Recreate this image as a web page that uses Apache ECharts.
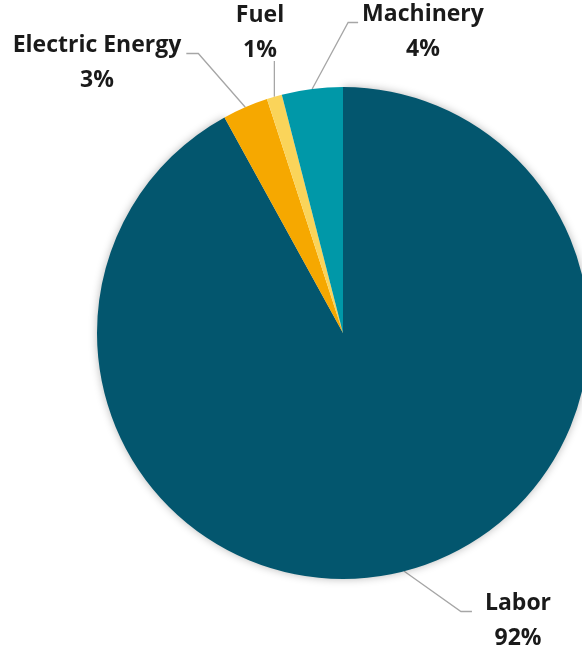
<!DOCTYPE html>
<html>
<head>
<meta charset="utf-8">
<script src="https://cdn.jsdelivr.net/npm/echarts@6/dist/echarts.min.js"></script>
<style>
  html, body { margin: 0; padding: 0; background: #ffffff; }
  #chart { width: 582px; height: 650px; }
</style>
</head>
<body>
<div id="chart"></div>
<script>
// Cost shares (percent)
const categories = ['Labor', 'Electric Energy', 'Fuel', 'Machinery'];
const shares = [92, 3, 1, 4];
const sliceColors = ['#03566E', '#F6A800', '#FAD45A', '#0098A8'];

// Where each two-line label sits, and which side its leader line leaves from
const labelSpots = {
  'Labor':           { x: 518, y: 621, side: 'left',   gap: 13, len: 11 },
  'Electric Energy': { x: 97,  y: 63,  side: 'right',  gap: 5,  len: 12 },
  'Fuel':            { x: 260, y: 33,  side: 'bottom', gap: 0,  len: 0 },
  'Machinery':       { x: 423, y: 32,  side: 'left',   gap: 4,  len: 10 }
};

const chart = echarts.init(document.getElementById('chart'), null, { renderer: 'canvas' });

const textStyle = {
  fontFamily: '"Open Sans", "Liberation Sans", sans-serif',
  fontWeight: 'bold',
  fontSize: 23,
  lineHeight: 35,
  color: '#1A1A1A',
  align: 'center'
};

chart.setOption({
  animation: false,
  backgroundColor: '#ffffff',
  series: [{
    type: 'pie',
    center: [343, 333],
    radius: [0, 246],
    startAngle: 90,
    clockwise: true,
    avoidLabelOverlap: false,
    percentPrecision: 0,
    data: categories.map((name, i) => ({
      name: name,
      value: shares[i],
      // the big slice carries the soft drop shadow around the disc
      itemStyle: i === 0
        ? { color: sliceColors[i], shadowBlur: 8, shadowColor: 'rgba(0, 0, 0, 0.28)' }
        : { color: sliceColors[i] }
    })),
    itemStyle: { borderWidth: 0 },
    label: {
      show: true,
      position: 'outside',
      formatter: '{n|{b}}\n{p|{d}%}',
      rich: { n: textStyle, p: textStyle }
    },
    labelLine: {
      show: true,
      lineStyle: { color: '#A6A6A6', width: 1.3 }
    },
    emphasis: { disabled: true },
    labelLayout: function (params) {
      const spot = labelSpots[params.name] || labelSpots[categories[params.dataIndex]];
      const w = params.labelRect.width;
      const h = params.labelRect.height;
      const anchor = params.labelLinePoints ? params.labelLinePoints[0] : null;
      const out = { x: spot.x, y: spot.y, align: 'center', verticalAlign: 'middle' };
      if (anchor) {
        const lineY = spot.y - 9.5;
        let pts;
        if (spot.side === 'left') {
          const endX = spot.x - w / 2 - spot.gap;
          pts = [anchor, [endX - spot.len, lineY], [endX, lineY]];
        } else if (spot.side === 'right') {
          const endX = spot.x + w / 2 + spot.gap;
          pts = [anchor, [endX + spot.len, lineY], [endX, lineY]];
        } else {
          const endY = spot.y + h / 2 - 1;
          pts = [anchor, [anchor[0], (anchor[1] + endY) / 2], [anchor[0], endY]];
        }
        out.labelLinePoints = pts;
      }
      return out;
    }
  }]
});
</script>
</body>
</html>
